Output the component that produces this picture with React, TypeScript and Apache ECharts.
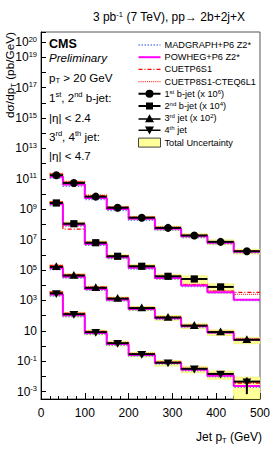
import React, { useEffect, useRef } from 'react';
import * as echarts from 'echarts';

const FONT = '"Liberation Sans", Arial, Helvetica, sans-serif';

// ---------- data ----------
const binEdges = [20, 50, 100, 150, 200, 260, 320, 380, 440, 500];
const yLabelExponents = [-3, -1, 1, 3, 5, 7, 9, 11, 13, 15, 17, 19, 20];
const yAxisMin = 3.3e-4;
const yAxisMax = 4.6e20;

// measured (scaled) cross sections, pb/GeV
const bjet1Data = [1.74e11, 5.4e10, 6.8e9, 1.26e9, 2.8e8, 6.0e7, 1.9e7, 7.2e6, 1.74e6];
const bjet2Data = [2.6e9, 1.12e8, 6.3e6, 8.1e5, 1.78e5, 3.9e4, 2.6e4, 7.8e3, null];
const jet3Data = [1.62e5, 4.4e4, 6.8e3, 1.32e3, 316, 76, 22, 8.3, 2.6];
const jet4Data = [2.95e3, 126, 8.3, 1.55, 0.295, 0.081, 0.032, 0.0148, 0.0046];

// relative statistical errors
const bjet1Stat = [0.02, 0.02, 0.02, 0.02, 0.03, 0.04, 0.05, 0.06, 0.08];
const bjet2Stat = [0.02, 0.02, 0.03, 0.04, 0.05, 0.08, 0.1, 0.2, 0];
const jet3Stat = [0.02, 0.02, 0.03, 0.04, 0.05, 0.06, 0.08, 0.1, 0.15];
const jet4Stat = [0.03, 0.03, 0.03, 0.04, 0.05, 0.06, 0.1, 0.2, 0.85];

// relative total uncertainty
const bjet1Unc = [0.3, 0.3, 0.25, 0.25, 0.25, 0.3, 0.3, 0.35, 0.35];
const bjet2Unc = [0.3, 0.3, 0.3, 0.3, 0.3, 0.35, 0.6, 0.6, 0];
const jet3Unc = [0.3, 0.3, 0.3, 0.3, 0.3, 0.35, 0.35, 0.4, 0.45];
const jet4Unc = [0.3, 0.35, 0.35, 0.35, 0.35, 0.4, 0.45, 0.55, 0.97];

// MADGRAPH+P6 Z2*
const bjet1Madgraph = [1.12e11, 3.3e10, 4.4e9, 8.3e8, 1.9e8, 4.3e7, 1.41e7, 5.5e6, 1.41e6];
const bjet2Madgraph = [1.78e9, 7.9e7, 4.3e6, 5.8e5, 1.2e5, 2.6e4, 8.3e3, 3.2e3, 1.0e3];
const jet3Madgraph = [1.1e5, 3.0e4, 4.8e3, 955, 234, 59, 17.8, 7.2, 2.4];
const jet4Madgraph = [2.0e3, 89, 6.0, 1.15, 0.224, 0.066, 0.024, 0.0095, 0.002];

// POWHEG+P6 Z2*
const bjet1Powheg = [1.4e11, 4.2e10, 5.5e9, 1.05e9, 2.4e8, 5.2e7, 1.66e7, 6.3e6, 1.58e6];
const bjet2Powheg = [2.2e9, 9.5e7, 5.2e6, 6.9e5, 1.45e5, 3.0e4, 9.5e3, 3.5e3, 1.12e3];
const jet3Powheg = [1.35e5, 3.7e4, 5.8e3, 1.12e3, 275, 68, 20, 7.9, 2.6];
const jet4Powheg = [2.5e3, 107, 7.2, 1.35, 0.26, 0.076, 0.028, 0.0112, 0.0024];

// CUETP6S1
const bjet1Cuetp6 = [2.1e11, 6.3e10, 7.9e9, 1.38e9, 3.0e8, 6.3e7, 1.95e7, 7.2e6, 1.78e6];
const bjet2Cuetp6 = [3.0e9, 5.0e7, 6.3e6, 8.3e5, 1.66e5, 3.5e4, 1.12e4, 4.2e3, 3.4e3];
const jet3Cuetp6 = [2.0e5, 5.0e4, 7.6e3, 1.45e3, 331, 79, 23, 8.9, 2.8];
const jet4Cuetp6 = [3.5e3, 145, 9.3, 1.7, 0.316, 0.089, 0.033, 0.0132, 0.0037];

// CUETP8S1-CTEQ6L1
const bjet1Cuetp8 = [2.3e11, 6.8e10, 8.5e9, 1.48e9, 3.2e8, 6.6e7, 2.0e7, 7.6e6, 1.86e6];
const bjet2Cuetp8 = [3.2e9, 1.26e8, 7.1e6, 8.9e5, 1.82e5, 3.8e4, 1.17e4, 4.3e3, 2.5e3];
const jet3Cuetp8 = [2.1e5, 5.2e4, 7.9e3, 1.51e3, 347, 83, 24, 9.3, 2.95];
const jet4Cuetp8 = [3.8e3, 151, 9.8, 1.78, 0.33, 0.093, 0.035, 0.0138, 0.004];

const groupNames = ['1st b-jet (x 10^6)', '2nd b-jet (x 10^4)', '3rd jet (x 10^2)', '4th jet'];
const groupLabels = [
  '1{sup|st} b-jet (x 10{sup|6})',
  '2{sup|nd} b-jet (x 10{sup|4})',
  '3{sup|rd} jet (x 10{sup|2})',
  '4{sup|th} jet',
];
const mcNames = ['MADGRAPH+P6 Z2*', 'POWHEG+P6 Z2*', 'CUETP6S1', 'CUETP8S1-CTEQ6L1'];
const uncName = 'Total Uncertainty';

const groups = [
  { data: bjet1Data, stat: bjet1Stat, unc: bjet1Unc, mc: [bjet1Madgraph, bjet1Powheg, bjet1Cuetp6, bjet1Cuetp8], marker: 'circle' },
  { data: bjet2Data, stat: bjet2Stat, unc: bjet2Unc, mc: [bjet2Madgraph, bjet2Powheg, bjet2Cuetp6, bjet2Cuetp8], marker: 'square' },
  { data: jet3Data, stat: jet3Stat, unc: jet3Unc, mc: [jet3Madgraph, jet3Powheg, jet3Cuetp6, jet3Cuetp8], marker: 'triangle' },
  { data: jet4Data, stat: jet4Stat, unc: jet4Unc, mc: [jet4Madgraph, jet4Powheg, jet4Cuetp6, jet4Cuetp8], marker: 'invTriangle' },
];

const mcStyles = [
  { color: '#6b8ce3', type: [1.5, 1.5], width: 1.6, icon: [1.5, 1.5], iconH: 1.5 },
  { color: '#ff00ff', type: 'solid', width: 2, icon: [22, 0], iconH: 2 },
  { color: '#ff0000', type: [4, 2, 1, 2], width: 1.2, icon: [4, 2, 1, 2], iconH: 1.3 },
  { color: '#ff3b3b', type: [1, 1], width: 1.2, icon: [1, 1], iconH: 1.3 },
];

// legend icon: a dashed line built from small rectangles
function dashIcon(pattern: number[], total: number, h: number) {
  let x = 0;
  let k = 0;
  let d = '';
  while (x < total - 0.01) {
    const len = Math.min(pattern[k % pattern.length], total - x);
    if (k % 2 === 0 && len > 0) {
      d += `M${x},0H${x + len}V${h}H${x}Z `;
    }
    x += pattern[k % pattern.length];
    k++;
  }
  return 'path://' + d.trim();
}

const legendIcons = [
  'path://M0,4H22V6H0Z M7,5A4,4,0,1,1,15,5A4,4,0,1,1,7,5Z',
  'path://M0,4H22V6H0Z M7.5,1.5H14.5V8.5H7.5Z',
  'path://M0,4.5H22V6H0Z M11,0.5L15.5,8.5H6.5Z',
  'path://M0,4H22V5.5H0Z M11,9L6.5,1H15.5Z',
];

const lg = (v: number) => Math.log10(v);
const yMinLog = lg(yAxisMin);
const yMaxLog = lg(yAxisMax);

function buildOption() {
  const series: any[] = [];

  // uncertainty bands
  const bandData: any[] = [];
  groups.forEach((g) => {
    g.data.forEach((v, i) => {
      if (v == null) return;
      const lo = Math.max(v * (1 - g.unc[i]), yAxisMin);
      const hi = v * (1 + g.unc[i]);
      bandData.push([binEdges[i], binEdges[i + 1], lg(lo), lg(hi)]);
    });
  });
  series.push({
    type: 'custom',
    name: uncName,
    z: 2,
    silent: true,
    itemStyle: { color: '#ffff99' },
    encode: { x: [0, 1], y: [2, 3] },
    data: bandData,
    renderItem: (params: any, api: any) => {
      const a = api.coord([api.value(0), api.value(3)]);
      const b = api.coord([api.value(1), api.value(2)]);
      return {
        type: 'rect',
        shape: { x: a[0], y: a[1], width: b[0] - a[0], height: b[1] - a[1] },
        style: { fill: '#ffff99', stroke: '#e8e860', lineWidth: 0.6 },
      };
    },
  });

  // MC histograms
  groups.forEach((g) => {
    g.mc.forEach((vals, m) => {
      const st = mcStyles[m];
      const pts = vals.map((v, i) => [binEdges[i], lg(v)]);
      pts.push([binEdges[binEdges.length - 1], lg(vals[vals.length - 1])]);
      series.push({
        type: 'line',
        name: mcNames[m],
        step: 'end',
        symbol: 'none',
        silent: true,
        z: 3 + (m === 1 ? 0.5 : 0),
        data: pts,
        itemStyle: { color: st.color },
        lineStyle: { color: st.color, type: st.type, width: st.width },
      });
    });
  });

  // data points
  groups.forEach((g, gi) => {
    const pts: any[] = [];
    g.data.forEach((v, i) => {
      if (v == null) return;
      pts.push([
        binEdges[i],
        binEdges[i + 1],
        lg(v),
        lg(v * (1 + g.stat[i])),
        lg(Math.max(v * (1 - g.stat[i]), yAxisMin)),
      ]);
    });
    series.push({
      type: 'custom',
      name: groupNames[gi],
      z: 5,
      silent: true,
      itemStyle: { color: '#000' },
      encode: { x: [0, 1], y: [2, 3, 4] },
      data: pts,
      renderItem: (params: any, api: any) => {
        const a = api.coord([api.value(0), api.value(2)]);
        const b = api.coord([api.value(1), api.value(2)]);
        const top = api.coord([api.value(0), api.value(3)])[1];
        const bot = api.coord([api.value(0), api.value(4)])[1];
        const cx = (a[0] + b[0]) / 2;
        const cy = a[1];
        let marker: any;
        if (g.marker === 'circle') {
          marker = { type: 'circle', shape: { cx, cy, r: 4 }, style: { fill: '#000' } };
        } else if (g.marker === 'square') {
          marker = { type: 'rect', shape: { x: cx - 3.6, y: cy - 3.6, width: 7.2, height: 7.2 }, style: { fill: '#000' } };
        } else if (g.marker === 'triangle') {
          marker = { type: 'polygon', shape: { points: [[cx, cy - 4.6], [cx + 4.4, cy + 3.2], [cx - 4.4, cy + 3.2]] }, style: { fill: '#000' } };
        } else {
          marker = { type: 'polygon', shape: { points: [[cx, cy + 4.6], [cx + 4.4, cy - 3.2], [cx - 4.4, cy - 3.2]] }, style: { fill: '#000' } };
        }
        return {
          type: 'group',
          children: [
            { type: 'line', shape: { x1: a[0], y1: cy, x2: b[0], y2: cy }, style: { stroke: '#000', lineWidth: 2 } },
            { type: 'line', shape: { x1: cx, y1: top, x2: cx, y2: bot }, style: { stroke: '#000', lineWidth: 2 } },
            marker,
          ],
        };
      },
    });
  });

  const labelMap: Record<string, string> = {};
  groupNames.forEach((n, i) => (labelMap[n] = groupLabels[i]));

  const legendData: any[] = [
    ...mcNames.map((n, m) => ({
      name: n,
      icon: dashIcon(mcStyles[m].icon, 22, mcStyles[m].iconH),
      itemStyle: { color: mcStyles[m].color, borderWidth: 0 },
    })),
    ...groupNames.map((n, i) => ({ name: n, icon: legendIcons[i], itemStyle: { color: '#000', borderWidth: 0 } })),
    { name: uncName, icon: 'rect', itemStyle: { color: '#ffff99', borderColor: '#444', borderWidth: 1 } },
  ];

  const supStyle = { fontFamily: FONT, fontSize: 7.5, verticalAlign: 'top', lineHeight: 7, fill: '#000' };
  const subStyle = { fontFamily: FONT, fontSize: 7.5, verticalAlign: 'bottom', lineHeight: 7, fill: '#000' };

  const txt = (x: number, y: number, text: string, extra: any = {}) => ({
    type: 'text',
    x,
    y,
    silent: true,
    style: {
      text,
      fontFamily: FONT,
      fontSize: 11.6,
      lineHeight: 14,
      fill: '#000',
      align: 'left',
      verticalAlign: 'middle',
      rich: {
        sup: supStyle,
        sub: subStyle,
      },
      ...extra,
    },
  });

  return {
    animation: false,
    backgroundColor: '#fff',
    grid: { left: 41, right: 11, top: 32, bottom: 64, show: true, borderColor: '#555', borderWidth: 1, backgroundColor: 'transparent' },
    xAxis: {
      type: 'value',
      min: 0,
      max: 500,
      interval: 100,
      axisLine: { show: true, onZero: false, lineStyle: { color: '#000', width: 1 } },
      axisTick: { show: true, inside: true, length: 6, lineStyle: { color: '#000' } },
      minorTick: { show: true, splitNumber: 5, length: 3, lineStyle: { color: '#000' } },
      splitLine: { show: false },
      axisLabel: { fontFamily: FONT, fontSize: 12, color: '#000', margin: 8 },
    },
    yAxis: {
      type: 'value',
      min: yMinLog,
      max: yMaxLog,
      splitNumber: 24,
      axisLine: { show: true, onZero: false, lineStyle: { color: '#000', width: 1 } },
      axisTick: { show: true, inside: true, length: 5, lineStyle: { color: '#000' } },
      splitLine: { show: false },
      axisLabel: {
        margin: 4,
        fontFamily: FONT,
        color: '#000',
        formatter: (val: number) => {
          const n = Math.round(val);
          if (Math.abs(val - n) > 1e-6) return '';
          if (yLabelExponents.indexOf(n) < 0) return '';
          if (n === 1) return '{b|10}';
          return '{b|10}{e|' + n + '}';
        },
        rich: {
          b: { fontFamily: FONT, fontSize: 12, lineHeight: 14, color: '#000' },
          e: { fontFamily: FONT, fontSize: 7.5, lineHeight: 7, verticalAlign: 'top', color: '#000' },
        },
      },
    },
    legend: {
      orient: 'vertical',
      left: 138,
      top: 40,
      padding: 0,
      itemWidth: 22,
      itemHeight: 9,
      itemGap: 2.2,
      selectedMode: false,
      symbolKeepAspect: true,
      data: legendData,
      formatter: (name: string) => labelMap[name] || name,
      textStyle: {
        fontFamily: FONT,
        fontSize: 9.2,
        lineHeight: 10,
        color: '#000',
        padding: [0, 0, 0, -1],
        rich: {
          sup: { fontFamily: FONT, fontSize: 6, lineHeight: 6, verticalAlign: 'top', color: '#000' },
        },
      },
    },
    graphic: [
      txt(245, 17, '3 pb{sup|-1} (7 TeV), pp→ 2b+2j+X', { align: 'right', fontSize: 12 }),
      txt(49, 44, 'CMS', { fontWeight: 'bold', fontSize: 12.5 }),
      txt(49, 57, 'Preliminary', { fontStyle: 'italic' }),
      txt(49, 77, 'p{sub|T} > 20 GeV'),
      txt(49, 97, '1{sup|st}, 2{sup|nd} b-jet:'),
      txt(49, 117, '|η| < 2.4'),
      txt(49, 136, '3{sup|rd}, 4{sup|th} jet:'),
      txt(49, 155, '|η| < 4.7'),
      {
        type: 'text',
        x: 10,
        y: 32,
        rotation: Math.PI / 2,
        silent: true,
        style: {
          text: 'dσ/dp{sub|T} (pb/GeV)',
          fontFamily: FONT,
          fontSize: 11.8,
          lineHeight: 14,
          fill: '#000',
          align: 'right',
          verticalAlign: 'middle',
          rich: { sub: subStyle },
        },
      },
      txt(262, 437, 'Jet p{sub|T} (GeV)', { align: 'right', fontSize: 12 }),
    ],
    series,
  };
}

export default function App() {
  const ref = useRef<HTMLDivElement>(null);
  useEffect(() => {
    if (!ref.current) return;
    const chart = echarts.init(ref.current, undefined, { renderer: 'svg' });
    chart.setOption(buildOption() as any);
    return () => chart.dispose();
  }, []);
  return (
    <div
      ref={ref}
      style={{ position: 'fixed', left: 0, top: 0, width: 273, height: 463, background: '#fff' }}
    />
  );
}
